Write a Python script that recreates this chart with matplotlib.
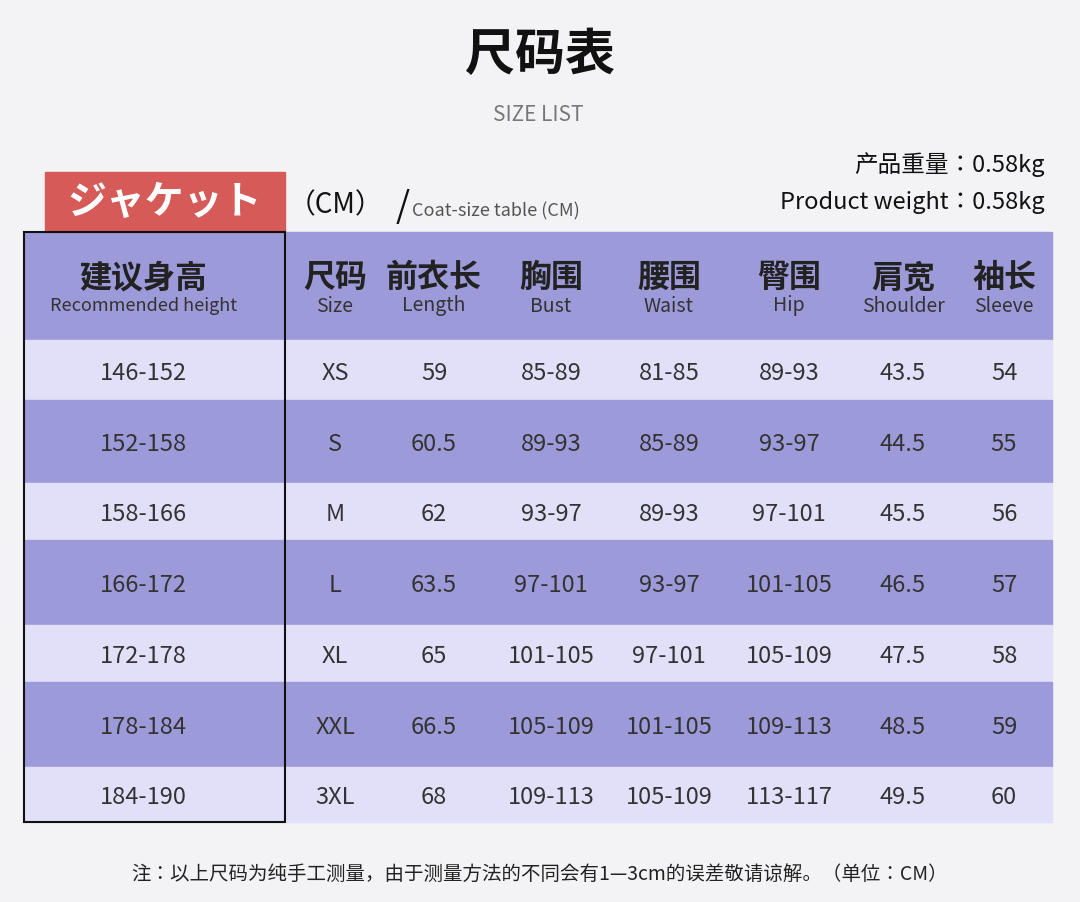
import matplotlib
matplotlib.use("Agg")
import matplotlib.pyplot as plt
from matplotlib.patches import Rectangle

heights = ["146-152","152-158","158-166","166-172","172-178","178-184","184-190"]
sizes = ["XS","S","M","L","XL","XXL","3XL"]
length = ["59","60.5","62","63.5","65","66.5","68"]
bust = ["85-89","89-93","93-97","97-101","101-105","105-109","109-113"]
waist = ["81-85","85-89","89-93","93-97","97-101","101-105","105-109"]
hip = ["89-93","93-97","97-101","101-105","105-109","109-113","113-117"]
shoulder = ["43.5","44.5","45.5","46.5","47.5","48.5","49.5"]
sleeve = ["54","55","56","57","58","59","60"]
headers_cn = ["建议身高","尺码","前衣长","胸围","腰围","臀围","肩宽","袖长"]
headers_en = ["Recommended height","Size","Length","Bust","Waist","Hip","Shoulder","Sleeve"]

FONT = ["Noto Sans CJK SC", "Noto Sans CJK JP", "Noto Sans CJK TC", "Noto Sans CJK KR", "DejaVu Sans"]
fig = plt.figure(figsize=(10.8, 9.02), dpi=100)
fig.patch.set_facecolor("#f3f3f5")
ax = fig.add_axes([0, 0, 1, 1])
ax.set_xlim(0, 1080); ax.set_ylim(902, 0); ax.axis("off")

dark = "#9c9ad8"; light = "#e2e0f8"
col_x = [143, 335, 434, 551, 669, 789, 903, 1004]
row_edges = [232, 340, 400, 483, 540, 625, 682, 767, 822]
ax.add_patch(Rectangle((24, 232), 1028, 108, color=dark, zorder=0))
for i in range(7):
    y0, y1 = row_edges[i+1], row_edges[i+2]
    ax.add_patch(Rectangle((24, y0), 1028, y1-y0, color=(light if i % 2 == 0 else dark), zorder=0))
ax.add_patch(Rectangle((24, 232), 261, 590, fill=False, ec="#111111", lw=1.5, zorder=2))

for j, (c, e) in enumerate(zip(headers_cn, headers_en)):
    ax.text(col_x[j], 278, c, fontsize=23, fontweight="bold", family=FONT, ha="center", va="center", color="#222")
    ax.text(col_x[j], 306, e, fontsize=14 if j else 13, family=FONT, ha="center", va="center", color="#333")

cols = [heights, sizes, length, bust, waist, hip, shoulder, sleeve]
for i in range(7):
    yc = (row_edges[i+1] + row_edges[i+2]) / 2 + 3
    for j, col in enumerate(cols):
        ax.text(col_x[j], yc, col[i], fontsize=17, family=FONT, ha="center", va="center", color="#333")

ax.text(540, 55, "尺码表", fontsize=36, fontweight="bold", family=FONT, ha="center", va="center", color="#111")
ax.text(538, 115, "SIZE LIST", fontsize=15, family=FONT, ha="center", va="center", color="#777")
ax.text(1045, 165, "产品重量：0.58kg", fontsize=17, family=FONT, ha="right", va="center", color="#111")
ax.text(1045, 203, "Product weight：0.58kg", fontsize=17, family=FONT, ha="right", va="center", color="#111")
ax.add_patch(Rectangle((45, 172), 240, 60, color="#d65a57", zorder=1))
ax.text(165, 202, "ジャケット", fontsize=28, fontweight="bold", family=FONT, ha="center", va="center", color="white", zorder=3)
ax.text(288, 205, "（CM）", fontsize=20, family=FONT, ha="left", va="center", color="#111")
ax.text(396, 207, "/", fontsize=26, family=FONT, ha="left", va="center", color="#111")
ax.text(412, 211, "Coat-size table (CM)", fontsize=13, family=FONT, ha="left", va="center", color="#555")
ax.text(540, 874, "注：以上尺码为纯手工测量，由于测量方法的不同会有1—3cm的误差敬请谅解。（单位：CM）", fontsize=14, family=FONT, ha="center", va="center", color="#222")
fig.savefig("out.png", dpi=100, facecolor=fig.get_facecolor())
